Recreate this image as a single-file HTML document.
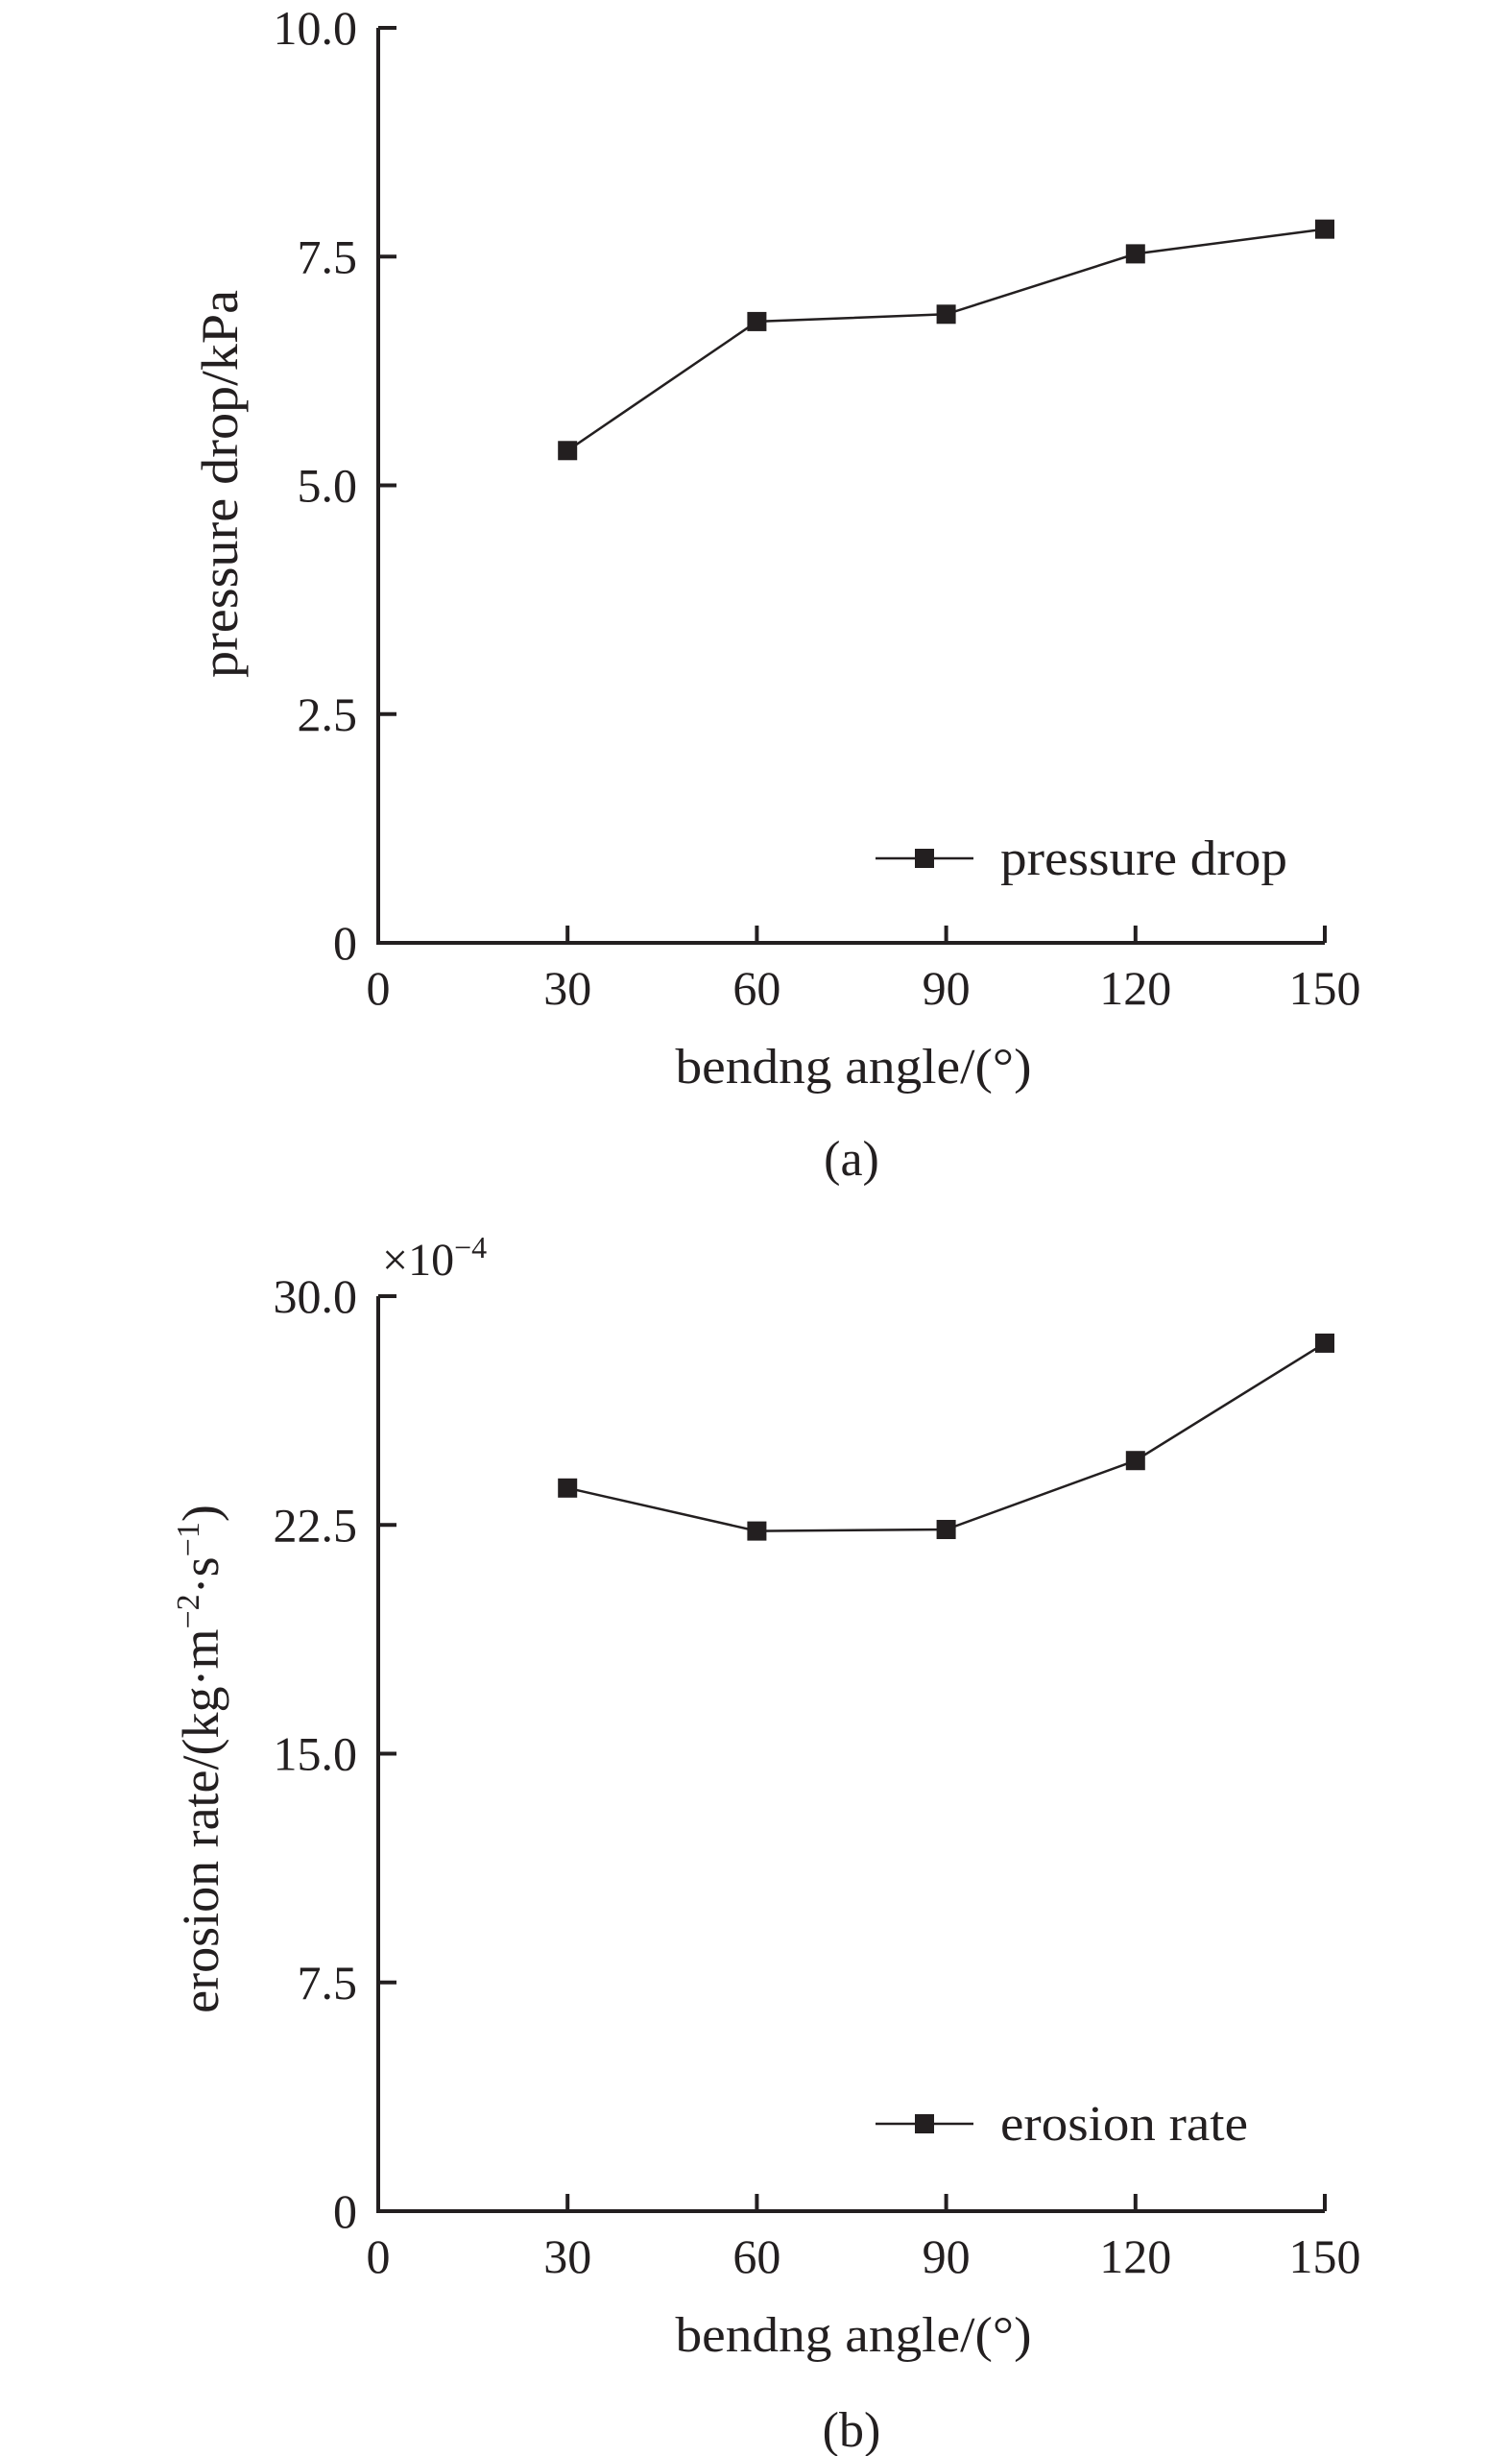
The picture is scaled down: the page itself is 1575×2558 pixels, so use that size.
<!DOCTYPE html>
<html><head><meta charset="utf-8"><style>
html,body{margin:0;padding:0;background:#fff;}
svg{display:block;font-family:"Liberation Serif",serif;fill:#231f20;}
</style></head><body>
<svg id="chart" width="1575" height="2558" viewBox="0 0 1575 2558" xmlns="http://www.w3.org/2000/svg">
<g id="pa"></g>
<g id="pb"></g>
</svg>
<script>
const categories = [30, 60, 90, 120, 150];
const pressureDrop = [5.38, 6.79, 6.87, 7.53, 7.80];
const erosionRate = [23.71, 22.30, 22.35, 24.61, 28.46];
const xTicks = [0, 30, 60, 90, 120, 150];
const xTickLabels = ["0", "30", "60", "90", "120", "150"];
const yTicksA = [0, 2.5, 5.0, 7.5, 10.0];
const yTickLabelsA = ["0", "2.5", "5.0", "7.5", "10.0"];
const yTicksB = [0, 7.5, 15.0, 22.5, 30.0];
const yTickLabelsB = ["0", "7.5", "15.0", "22.5", "30.0"];

const NS = "http://www.w3.org/2000/svg";
function mk(parent, tag, attrs, text) {
  const e = document.createElementNS(NS, tag);
  for (const k in attrs) e.setAttribute(k, attrs[k]);
  if (text !== undefined) e.textContent = text;
  parent.appendChild(e);
  return e;
}
function drawPanel(g, cfg) {
  const X0 = 394, X1 = 1380;
  const xs = v => X0 + (v - 0) / 150 * (X1 - X0);
  const ys = v => cfg.yBot - v / cfg.yMax * (cfg.yBot - cfg.yTop);
  const ax = mk(g, "path", {d:`M${X0} ${cfg.yTop}V${cfg.yBot}H${X1}`, fill:"none", stroke:"#231f20", "stroke-width":4});
  
  
  xTicks.forEach((t, i) => {
    const x = xs(t);
    if (i > 0) {
      const tk = mk(g, "line", {x1:x, x2:x, y1:cfg.yBot, y2:cfg.yBot - 18, stroke:"#231f20", "stroke-width":4});
      
      
    }
    const tl = mk(g, "text", {x:x, y:cfg.yBot + 64, "font-size":50, "text-anchor":"middle"}, xTickLabels[i]);
    
    
  });
  cfg.yTicks.forEach((t, i) => {
    const y = ys(t);
    if (i > 0) {
      const tk = mk(g, "line", {x1:X0, x2:X0 + 19, y1:y, y2:y, stroke:"#231f20", "stroke-width":4});
      
      
    }
    const tl = mk(g, "text", {x:372, y:y + 17, "font-size":50, "text-anchor":"end"}, cfg.yLabels[i]);
    
    
  });
  const pts = categories.map((c, i) => [xs(c), ys(cfg.values[i])]);
  const ln = mk(g, "polyline", {points:pts.map(p => p.join(",")).join(" "), fill:"none", stroke:"#231f20", "stroke-width":2.5});
  
  
  pts.forEach(p => {
    const m = mk(g, "rect", {x:p[0] - 10, y:p[1] - 10, width:20, height:20, fill:"#231f20"});
    
    
  });
  const lg = mk(g, "g", {});
  
  
  mk(lg, "line", {x1:912, x2:1014, y1:cfg.legY, y2:cfg.legY, stroke:"#231f20", "stroke-width":2.5});
  mk(lg, "rect", {x:953, y:cfg.legY - 10, width:20, height:20, fill:"#231f20"});
  mk(lg, "text", {x:1042, y:cfg.legY + 17, "font-size":52, textLength:cfg.legLen, lengthAdjust:"spacingAndGlyphs"}, cfg.legText);
  const xt = mk(g, "text", {x:889, y:cfg.yBot + 146, "font-size":52, "text-anchor":"middle", textLength:371, lengthAdjust:"spacingAndGlyphs"}, "bendng angle/(°)");
  
  
  const cap = mk(g, "text", {x:887, y:cfg.capY, "font-size":52, "text-anchor":"middle"}, cfg.cap);
  
  
}
const ga = document.getElementById("pa");
drawPanel(ga, {yTop:29, yBot:982, yMax:10, yTicks:yTicksA, yLabels:yTickLabelsA, values:pressureDrop, legY:894, legText:"pressure drop", legLen:299, cap:"(a)", capY:1224});
const yta = mk(ga, "text", {x:0, y:0, "font-size":54, "text-anchor":"middle", transform:"translate(247,504) rotate(-90)", textLength:404, lengthAdjust:"spacingAndGlyphs"}, "pressure drop/kPa");



const gb = document.getElementById("pb");
drawPanel(gb, {yTop:1350, yBot:2303, yMax:30, yTicks:yTicksB, yLabels:yTickLabelsB, values:erosionRate, legY:2212, legText:"erosion rate", legLen:258, cap:"(b)", capY:2548});
const ytb = mk(gb, "text", {x:0, y:0, "font-size":54, "text-anchor":"middle", transform:"translate(227,1832) rotate(-90)"});


mk(ytb, "tspan", {}, "erosion rate/(kg·m");
mk(ytb, "tspan", {dy:-20, "font-size":34}, "−2");
mk(ytb, "tspan", {dy:20}, "·s");
mk(ytb, "tspan", {dy:-20, "font-size":34}, "−1");
mk(ytb, "tspan", {dy:20}, ")");
const sc = mk(gb, "text", {x:398, y:1328, "font-size":48});


mk(sc, "tspan", {}, "×10");
mk(sc, "tspan", {dy:-18, "font-size":32}, "−4");
</script>
</body></html>
